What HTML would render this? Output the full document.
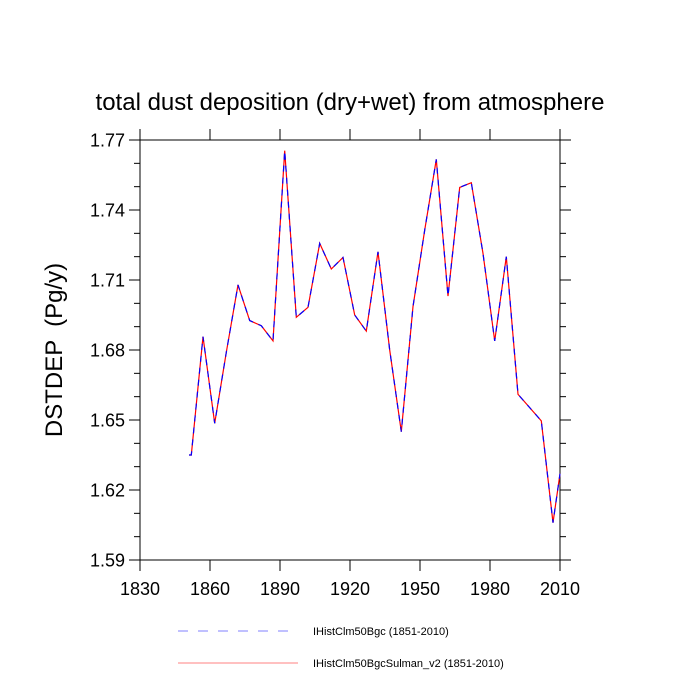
<!DOCTYPE html>
<html><head><meta charset="utf-8"><style>
html,body{margin:0;padding:0;background:#fff;}
svg{display:block;font-family:"Liberation Sans",sans-serif;}
</style></head><body>
<svg id="chart" width="700" height="700" viewBox="0 0 700 700">
<text x="350" y="110" text-anchor="middle" font-size="24">total dust deposition (dry+wet) from atmosphere</text>
<text transform="translate(62,350) rotate(-90)" text-anchor="middle" font-size="24" style="white-space:pre">DSTDEP  (Pg/y)</text>
<g id="axes"></g>
<g id="series"></g>
<g>
<line x1="178" y1="631" x2="298" y2="631" stroke="#8080ff" stroke-width="1" stroke-dasharray="10,10"/>
<text x="313" y="635" font-size="11">IHistClm50Bgc (1851-2010)</text>
<line x1="178" y1="663" x2="298" y2="663" stroke="#ff8080" stroke-width="1"/>
<text x="313" y="667" font-size="11">IHistClm50BgcSulman_v2 (1851-2010)</text>
</g>
</svg>
<script>
const years=[1851,1852,1857,1862,1867,1872,1877,1882,1887,1892,1897,1902,1907,1912,1917,1922,1927,1932,1937,1942,1947,1952,1957,1962,1967,1972,1977,1982,1987,1992,1997,2002,2007,2010];
const bgcValues=[1.635,1.635,1.6857,1.6486,1.679,1.7079,1.6926,1.6904,1.6839,1.7654,1.694,1.6983,1.7257,1.7147,1.7197,1.695,1.6881,1.7221,1.680,1.645,1.6986,1.7314,1.7617,1.7031,1.7497,1.7517,1.7214,1.6839,1.72,1.661,1.6553,1.6496,1.606,1.627];
const sulmanValues=[1.635,1.635,1.6857,1.6486,1.679,1.7079,1.6926,1.6904,1.6839,1.7654,1.694,1.6983,1.7257,1.7147,1.7197,1.695,1.6881,1.7221,1.680,1.645,1.6986,1.7314,1.7617,1.7031,1.7497,1.7517,1.7214,1.6839,1.72,1.661,1.6553,1.6496,1.606,1.627];
const xTicks=[1830,1860,1890,1920,1950,1980,2010];
const yTicks=[1.59,1.62,1.65,1.68,1.71,1.74,1.77];
const yMinor=[1.60,1.61,1.63,1.64,1.66,1.67,1.69,1.70,1.72,1.73,1.75,1.76];

const L=140,R=560,T=140,B=560;
const xs=v=>L+(v-1830)/(2010-1830)*(R-L);
const ys=v=>B-(v-1.59)/(1.77-1.59)*(B-T);
const NS="http://www.w3.org/2000/svg";
const axes=document.getElementById('axes');
const series=document.getElementById('series');
function mk(tag,attrs,parent){const e=document.createElementNS(NS,tag);for(const k in attrs)e.setAttribute(k,attrs[k]);parent.appendChild(e);return e;}

const frame=mk('rect',{x:L,y:T,width:R-L,height:B-T,fill:'none',stroke:'#000','stroke-width':1},axes);



xTicks.forEach(t=>{
  const x=xs(t);
  const a=mk('line',{x1:x,y1:B,x2:x,y2:B+11,stroke:'#000'},axes);
  
  
  const b=mk('line',{x1:x,y1:T,x2:x,y2:T-11,stroke:'#000'},axes);
  
  
  const tx=mk('text',{x:x,y:B+35,'text-anchor':'middle','font-size':18},axes);
  tx.textContent=t;
  
  
});
yTicks.forEach(t=>{
  const y=ys(t);
  const a=mk('line',{x1:L-11,y1:y,x2:L,y2:y,stroke:'#000'},axes);
  
  
  const b=mk('line',{x1:R,y1:y,x2:R+11,y2:y,stroke:'#000'},axes);
  
  
  const tx=mk('text',{x:L-15,y:y+6.5,'text-anchor':'end','font-size':18},axes);
  tx.textContent=t.toFixed(2);
  
  
});
yMinor.forEach(t=>{
  const y=ys(t);
  const a=mk('line',{x1:L-6,y1:y,x2:L,y2:y,stroke:'#000'},axes);
  
  
  const b=mk('line',{x1:R,y1:y,x2:R+6,y2:y,stroke:'#000'},axes);
  
  
});

function pts(vals){return years.map((yr,i)=>xs(yr).toFixed(1)+','+ys(vals[i]).toFixed(1)).join(' ');}
const red=mk('polyline',{points:pts(sulmanValues),fill:'none',stroke:'#ff0000','stroke-width':1.2},series);


const blue=mk('polyline',{points:pts(bgcValues),fill:'none',stroke:'#0000ff','stroke-width':1.2,'stroke-dasharray':'6,6'},series);


</script>
</body></html>
